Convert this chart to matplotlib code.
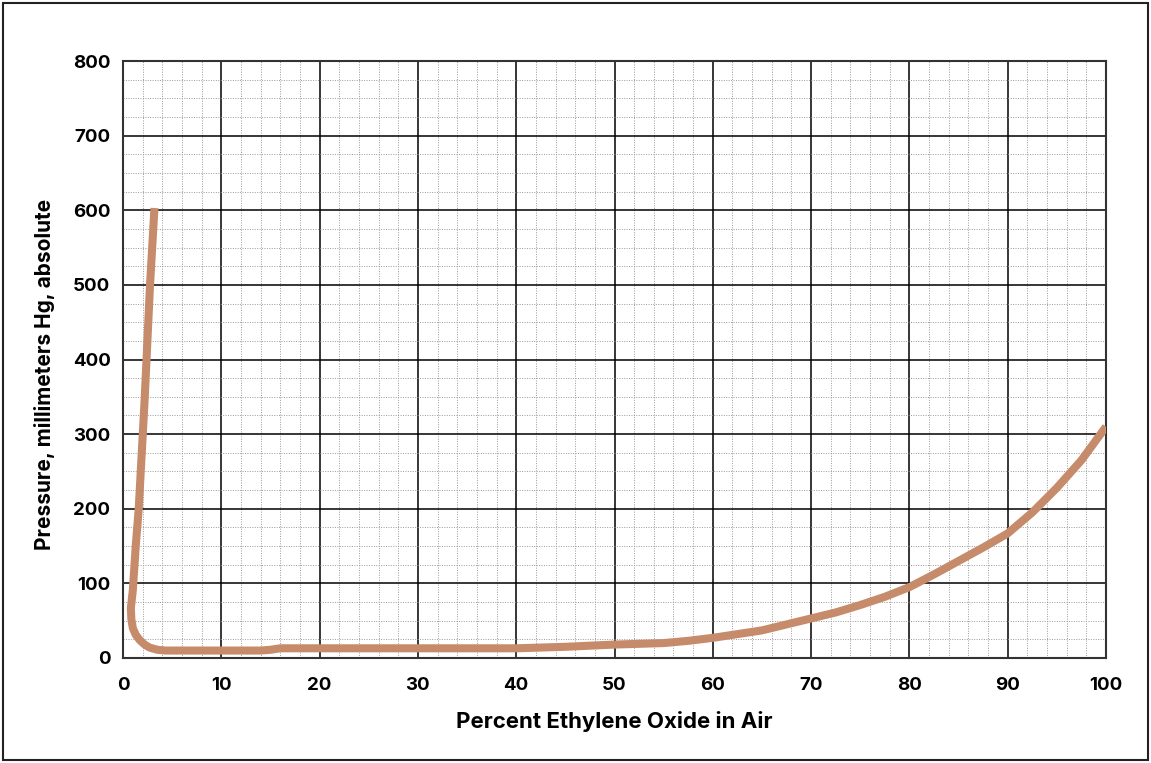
import matplotlib
matplotlib.use("Agg")
import matplotlib.pyplot as plt
from matplotlib.patches import Rectangle
from matplotlib.ticker import MultipleLocator

# Flammability limit curve for ethylene oxide / air mixtures
pct_eo = [3.2, 2.75, 2.2, 1.6, 1.3, 1.0, 0.8, 0.85, 1.0, 1.3, 1.7, 2.2, 2.7, 3.5, 4.3, 6.0,
          10.0, 14.0, 15.0, 16.0, 20.0, 30.0, 40.0, 45.0, 50.0, 55.0, 57.5, 60.0, 62.5,
          65.0, 67.5, 70.0, 72.5, 75.0, 77.5, 80.0, 82.5, 85.0, 87.5, 90.0, 92.5, 95.0,
          97.5, 100.0]
pressure = [603, 500, 346, 200, 151, 91, 67, 52, 40, 31, 24, 18, 14, 11, 10, 10,
            10, 10, 11, 13, 13, 13, 13, 15, 18, 20, 23, 27, 32, 37, 45, 53, 61, 71, 82,
            95, 112, 130, 148, 167, 195, 228, 265, 310]

x_ticks = list(range(0, 101, 10))
y_ticks = list(range(0, 801, 100))

W, H = 1151, 763
fig = plt.figure(figsize=(W / 100, H / 100), dpi=100)
ax = fig.add_axes([123 / W, 1 - 658 / H, (1106 - 123) / W, (658 - 61) / H])

# thin frame around the whole figure
fig.patches.append(Rectangle((3 / W, 3 / H), 1 - 6 / W, 1 - 6 / H, transform=fig.transFigure,
                             fill=False, edgecolor="#222222", linewidth=1.5))

ax.set_xlim(0, 100)
ax.set_ylim(0, 800)
ax.set_xticks(x_ticks)
ax.set_yticks(y_ticks)
ax.xaxis.set_minor_locator(MultipleLocator(2))
ax.yaxis.set_minor_locator(MultipleLocator(25))

ax.grid(which="major", color="black", linewidth=1.1, linestyle="-")
ax.grid(which="minor", color="#9a9a9a", linewidth=0.7, linestyle=(0, (1, 1.5)))
ax.set_axisbelow(True)

ax.plot(pct_eo, pressure, color="#C68B6A", linewidth=5.8, solid_capstyle="butt",
        solid_joinstyle="round", zorder=3)

for s in ax.spines.values():
    s.set_color("#333333")
    s.set_linewidth(1.5)

ax.tick_params(which="both", length=0)
ax.tick_params(axis="x", pad=14)
ax.tick_params(axis="y", pad=9)
for lbl in ax.get_xticklabels() + ax.get_yticklabels():
    lbl.set_fontfamily("Inter")
    lbl.set_fontweight("bold")
    lbl.set_fontsize(13.5)

ax.set_xlabel("Percent Ethylene Oxide in Air", family="Inter", weight="bold",
              size=16, labelpad=12)
ax.set_ylabel("Pressure, millimeters Hg, absolute", family="Inter", weight="bold",
              size=15)
ax.yaxis.set_label_coords(-0.069, 0.475)

fig.savefig("out.png", dpi=100)
